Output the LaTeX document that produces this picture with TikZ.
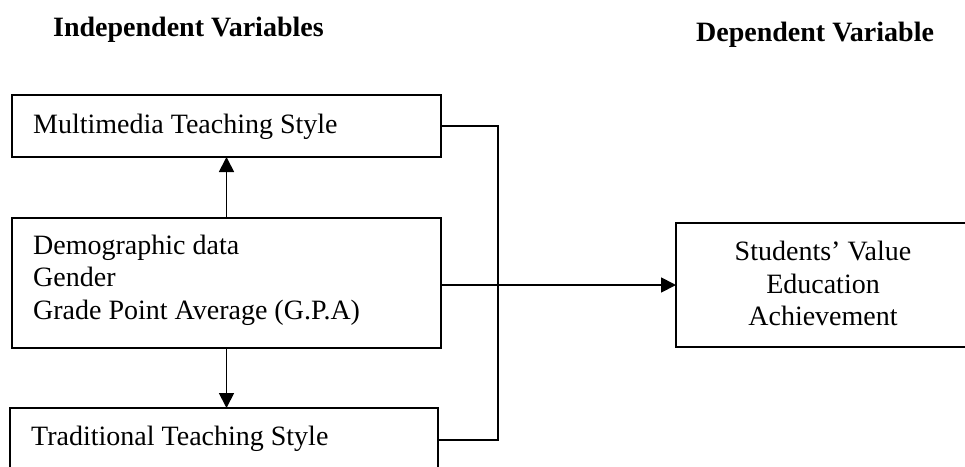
\documentclass[tikz,border=0pt]{standalone}
\usepackage{fontspec}
\setmainfont{Liberation Serif}
\usetikzlibrary{arrows.meta}
\begin{document}
\begin{tikzpicture}[x=1pt,y=-1pt,
  box/.style={draw,line width=1.6pt,inner sep=0pt,outer sep=0pt},
  lbl/.style={inner sep=0pt,font=\fontsize{28}{33}\selectfont},
  ttl/.style={inner sep=0pt,font=\fontsize{28}{33}\selectfont\bfseries},
  conn/.style={line width=1.8pt},
  arr/.style={line width=1.8pt,-{Triangle[length=15pt,width=15pt]}}]
\useasboundingbox (0,0) rectangle (965,466);
% titles
\node[ttl,anchor=base west] (ti) at (53,36) {Independent Variables};
\node[ttl,anchor=base west] (td) at (696,41) {Dependent Variable};
% boxes
\node[box,minimum width=429pt,minimum height=62pt] (b1) at (226.5,126) {};
\node[box,minimum width=429pt,minimum height=130pt] (b2) at (226.5,283) {};
\node[box,minimum width=428pt,minimum height=64pt] (b3) at (224,440) {};
\node[box,minimum width=296pt,minimum height=124pt] (stu) at (824,285) {};
% texts
\node[lbl,anchor=base west] (t1) at (33,133) {Multimedia Teaching Style};
\node[lbl,anchor=base west] (t2a) at (33,254) {Demographic data};
\node[lbl,anchor=base west] (t2b) at (33,286) {Gender};
\node[lbl,anchor=base west] (t2c) at (33,319) {Grade Point Average (G.P.A)};
\node[lbl,anchor=base west] (t3) at (31,445) {Traditional Teaching Style};
\node[lbl,anchor=base] (s1) at (823,260) {Students’ Value};
\node[lbl,anchor=base] (s2) at (823,293) {Education};
\node[lbl,anchor=base] (s3) at (823,325) {Achievement};
% connectors
\coordinate (jx) at (498,0);
\draw[arr] (b2.north) -- (b1.south);
\draw[arr] (b2.south) -- (b2.south |- b3.north);
\draw[conn] (b1.east) -| (jx |- b3.east) -- (b3.east);
\draw[arr] (b2.east |- stu.west) -- (stu.west);
\end{tikzpicture}
\end{document}
